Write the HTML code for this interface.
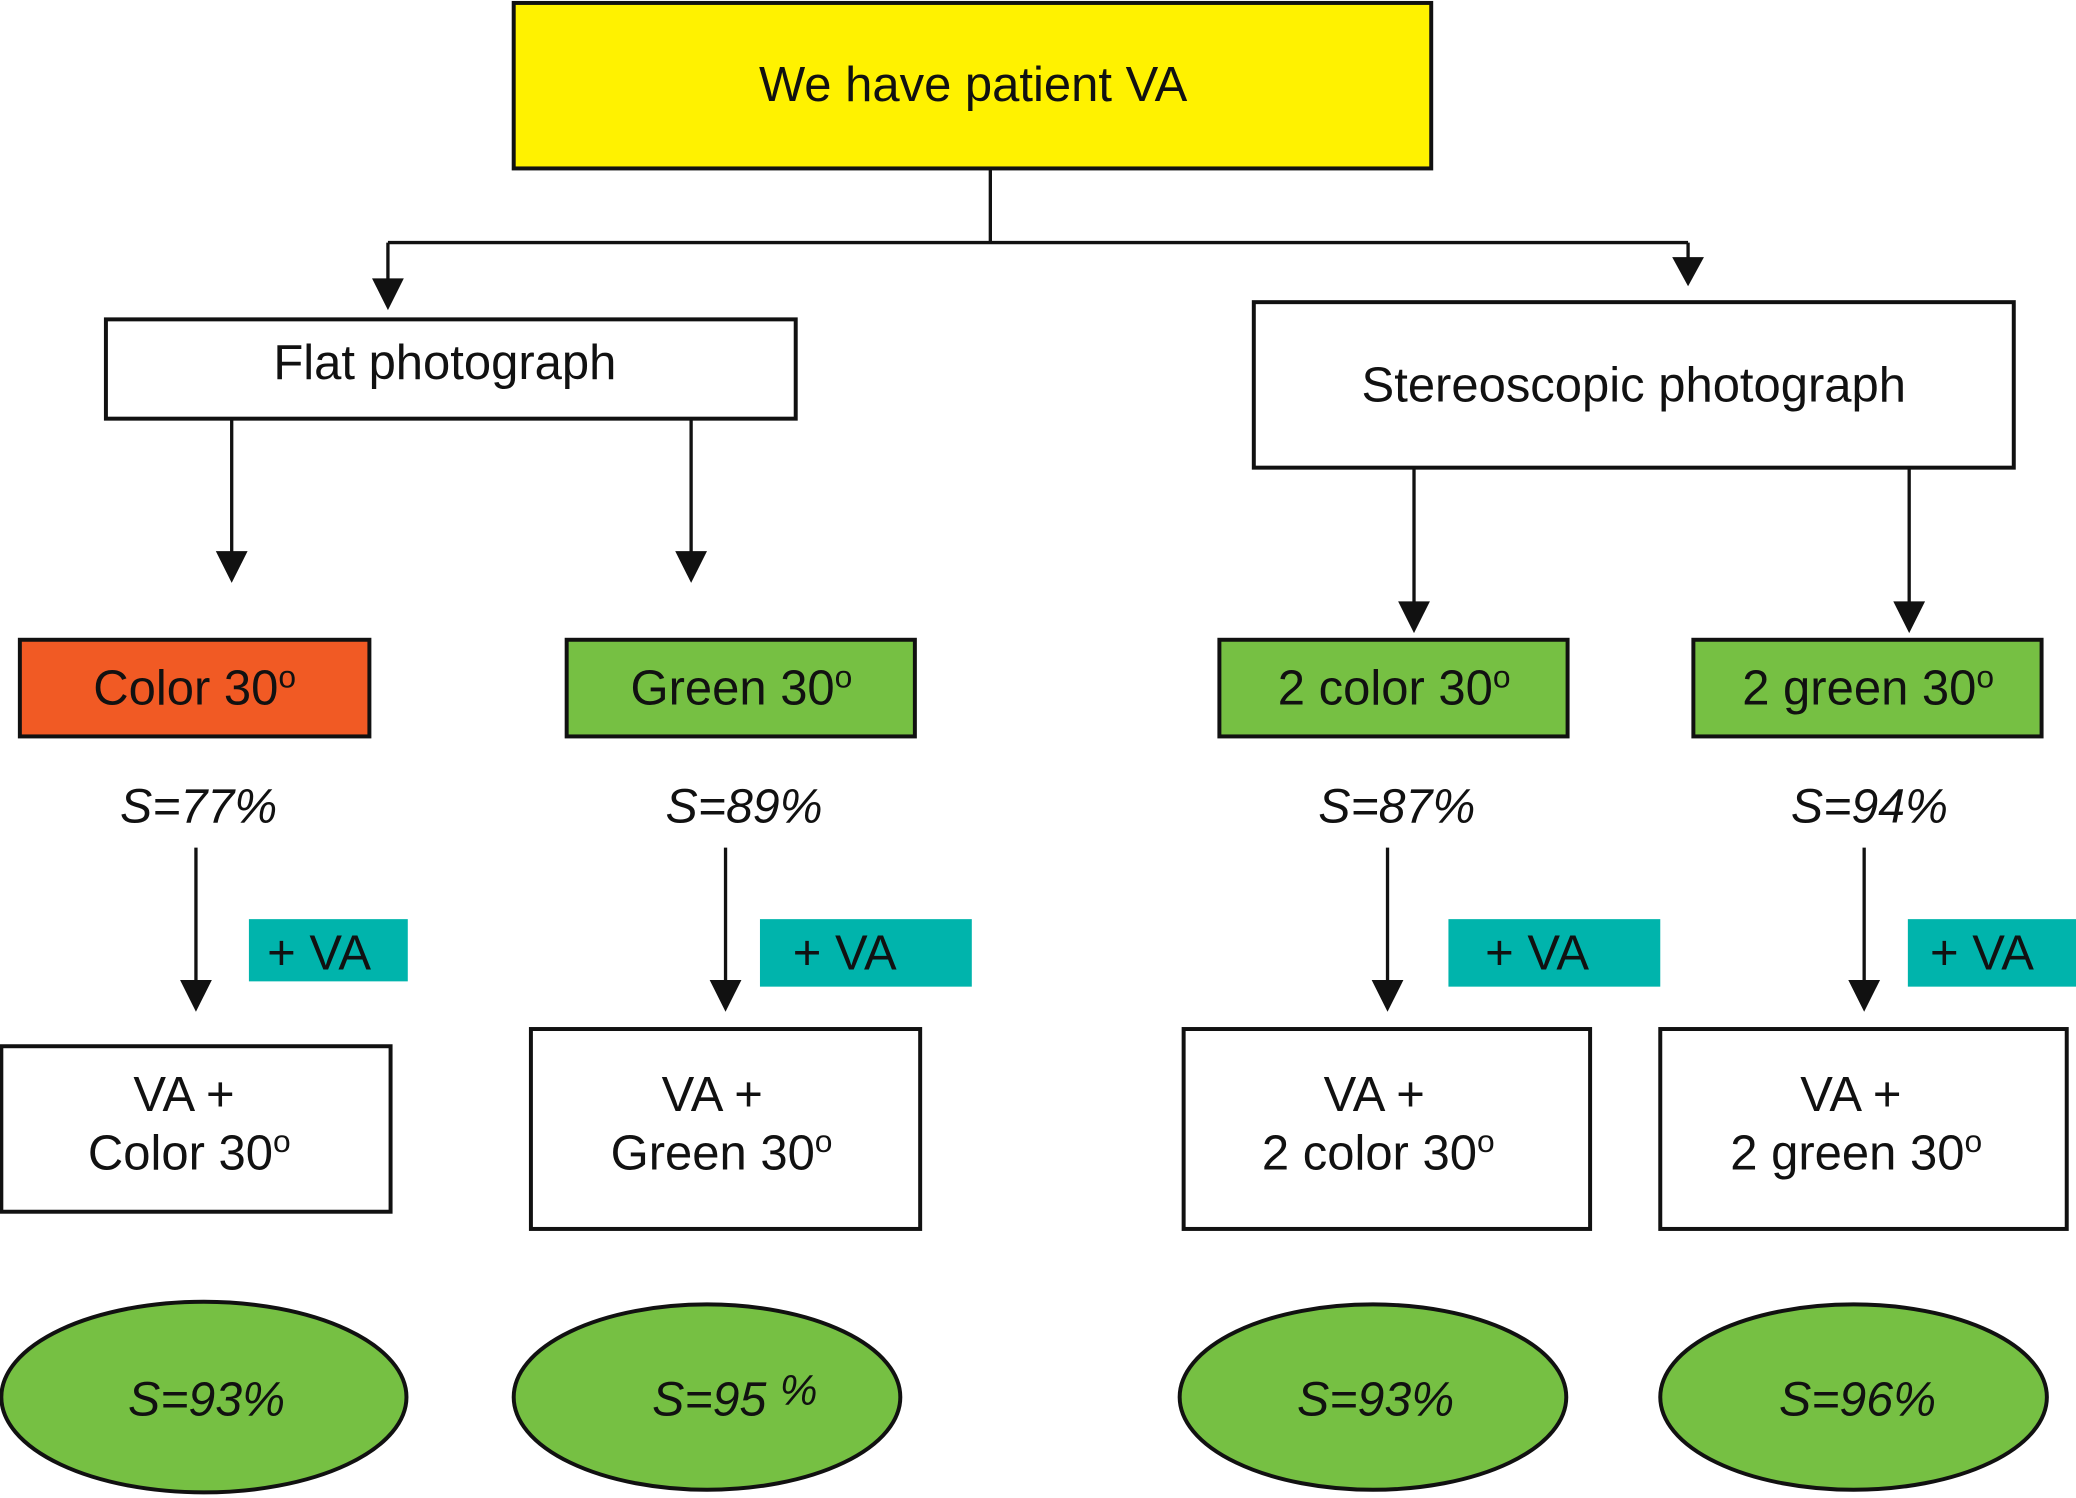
<!DOCTYPE html>
<html><head><meta charset="utf-8"><style>
html,body{margin:0;padding:0;background:#fff;}
svg{display:block;}
text{font-family:"Liberation Sans",Arial,sans-serif;fill:#111;}
</style></head><body>
<svg width="2076" height="1498" viewBox="0 0 1568 1131" xmlns="http://www.w3.org/2000/svg">
<g stroke="#111" stroke-width="2.5" fill="none">
<path d="M748 127V183M293 183H1275M293 183V212M1275 183V196"/>
<path d="M175 316V418M522 316V418M1068 353V456M1442 353V456"/>
<path d="M148 640V742M548 640V742M1048 640V742M1408 640V742"/>
</g>
<g fill="#111">
<polygon points="281,210 305,210 293,234"/>
<polygon points="1263,194 1287,194 1275,216"/>
<polygon points="163,416 187,416 175,440"/>
<polygon points="510,416 534,416 522,440"/>
<polygon points="1056,454 1080,454 1068,478"/>
<polygon points="1430,454 1454,454 1442,478"/>
<polygon points="136,740 160,740 148,764"/>
<polygon points="536,740 560,740 548,764"/>
<polygon points="1036,740 1060,740 1048,764"/>
<polygon points="1396,740 1420,740 1408,764"/>
</g>
<g stroke="#111" stroke-width="3">
<rect x="388" y="2" width="693" height="125" fill="#fff200"/>
<rect x="80" y="241" width="521" height="75" fill="#fff"/>
<rect x="947" y="228" width="574" height="125" fill="#fff"/>
<rect x="15" y="483" width="264" height="73" fill="#f15a24"/>
<rect x="428" y="483" width="263" height="73" fill="#76c043"/>
<rect x="921" y="483" width="263" height="73" fill="#76c043"/>
<rect x="1279" y="483" width="263" height="73" fill="#76c043"/>
<rect x="1" y="790" width="294" height="125" fill="#fff"/>
<rect x="401" y="777" width="294" height="151" fill="#fff"/>
<rect x="894" y="777" width="307" height="151" fill="#fff"/>
<rect x="1254" y="777" width="307" height="151" fill="#fff"/>
<ellipse cx="154" cy="1055" rx="153" ry="72" fill="#76c043"/>
<ellipse cx="534" cy="1055" rx="146" ry="70" fill="#76c043"/>
<ellipse cx="1037" cy="1055" rx="146" ry="70" fill="#76c043"/>
<ellipse cx="1400" cy="1055" rx="146" ry="70" fill="#76c043"/>
</g>
<g fill="#00b4ac">
<rect x="188" y="694" width="120" height="47"/>
<rect x="574" y="694" width="160" height="51"/>
<rect x="1094" y="694" width="160" height="51"/>
<rect x="1441" y="694" width="127" height="51"/>
</g>
<g font-size="37" text-anchor="middle">
<text x="735" y="76">We have patient VA</text>
<text x="336" y="286">Flat photograph</text>
<text x="1234" y="303">Stereoscopic photograph</text>
<text x="147" y="532">Color 30<tspan font-size="24" dy="-13">o</tspan></text>
<text x="560" y="532">Green 30<tspan font-size="24" dy="-13">o</tspan></text>
<text x="1053" y="532">2 color 30<tspan font-size="24" dy="-13">o</tspan></text>
<text x="1411" y="532">2 green 30<tspan font-size="24" dy="-13">o</tspan></text>
<text x="241" y="732">+ VA</text>
<text x="638" y="732">+ VA</text>
<text x="1161" y="732">+ VA</text>
<text x="1497" y="732">+ VA</text>
<text x="139" y="839">VA +</text>
<text x="143" y="883">Color 30<tspan font-size="24" dy="-13">o</tspan></text>
<text x="538" y="839">VA +</text>
<text x="545" y="883">Green 30<tspan font-size="24" dy="-13">o</tspan></text>
<text x="1038" y="839">VA +</text>
<text x="1041" y="883">2 color 30<tspan font-size="24" dy="-13">o</tspan></text>
<text x="1398" y="839">VA +</text>
<text x="1402" y="883">2 green 30<tspan font-size="24" dy="-13">o</tspan></text>
</g>
<g font-size="36.5" font-style="italic" text-anchor="middle">
<text x="150" y="621">S=77%</text>
<text x="562" y="621">S=89%</text>
<text x="1055" y="621">S=87%</text>
<text x="1412" y="621">S=94%</text>
<text x="156" y="1069">S=93%</text>
<text x="555" y="1069">S=95 <tspan font-size="32" dy="-8">%</tspan></text>
<text x="1039" y="1069">S=93%</text>
<text x="1403" y="1069">S=96%</text>
</g>
</svg>
</body></html>
